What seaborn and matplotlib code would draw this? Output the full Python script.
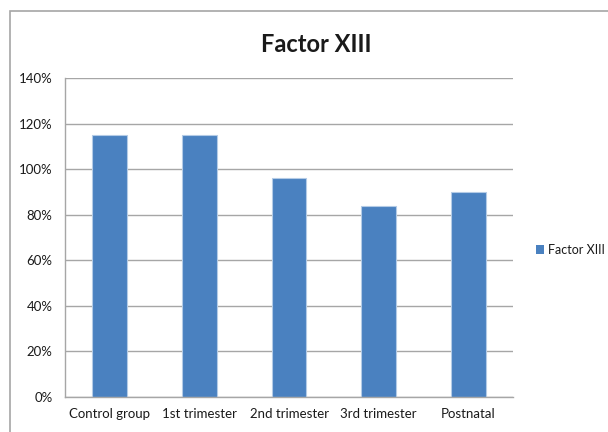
import matplotlib
matplotlib.use("Agg")
import matplotlib.pyplot as plt
from matplotlib.patches import Rectangle
from matplotlib.ticker import FuncFormatter, MultipleLocator
import seaborn as sns
import pandas as pd

categories = ["Control group", "1st trimester", "2nd trimester", "3rd trimester", "Postnatal"]
factor_xiii = [115, 115, 96, 84, 90]
series_name = "Factor XIII"

df = pd.DataFrame({"group": categories, "value": factor_xiii, "series": series_name})

sns.set_style("white")
plt.rcParams["font.family"] = ["Lato", "DejaVu Sans"]

fig = plt.figure(figsize=(6.08, 4.32), dpi=100)
ax = fig.add_axes([65 / 608, 1 - 397 / 432, 448 / 608, 319 / 432])

sns.barplot(data=df, x="group", y="value", hue="series", palette=["#4a81c0"],
            saturation=1, width=0.39, ax=ax, edgecolor="#b4cbe6", linewidth=0.8,
            legend=True)

ax.set_ylim(0, 140)
ax.yaxis.set_major_locator(MultipleLocator(20))
ax.yaxis.set_major_formatter(FuncFormatter(lambda v, p: f"{int(v)}%"))
ax.set_xlim(-0.5, len(categories) - 0.5)
ax.grid(axis="y", color="#a6a6a6", linewidth=1.0)
ax.set_axisbelow(True)
ax.set_xlabel("")
ax.set_ylabel("")

for side in ["top", "right"]:
    ax.spines[side].set_visible(False)
for side in ["left", "bottom"]:
    ax.spines[side].set_color("#a6a6a6")
    ax.spines[side].set_linewidth(1.0)

# category separators below the x axis
ax.set_xticks([i - 0.5 for i in range(len(categories) + 1)], minor=True)
ax.tick_params(axis="x", which="minor", length=5, color="#a6a6a6", width=1, direction="out")
ax.tick_params(axis="x", which="major", length=0, labelsize=9.5, pad=8, colors="#1a1a1a")
ax.tick_params(axis="y", which="major", length=5, color="#a6a6a6", width=1,
               direction="out", labelsize=9.5, pad=4, colors="#1a1a1a")

fig.text(316 / 608, 1 - 44 / 432, "Factor XIII", ha="center", va="center",
         fontsize=17, fontweight="bold", color="#1a1a1a")

leg = ax.legend(loc="center left", bbox_to_anchor=(536 / 608, 1 - 250 / 432),
                bbox_transform=fig.transFigure, frameon=False, fontsize=9,
                handlelength=0.65, handleheight=0.65, handletextpad=0.3,
                borderaxespad=0, borderpad=0)
for t in leg.get_texts():
    t.set_color("#1a1a1a")
for h in leg.legend_handles:
    h.set_edgecolor("none")

# chart area frame
fig.patches.append(Rectangle((10 / 608, -0.05), 1.0, 1 - 11 / 432 + 0.05,
                             transform=fig.transFigure, fill=False,
                             edgecolor="#a6a6a6", linewidth=1.2))

fig.savefig("out.png", dpi=100)
